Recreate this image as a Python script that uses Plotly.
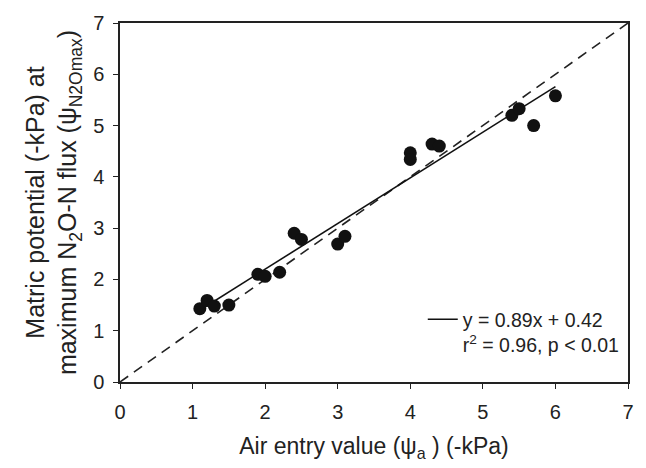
import plotly.graph_objects as go

# Air entry value (-kPa) and matric potential at maximum N2O-N flux (-kPa)
air_entry = [1.1, 1.2, 1.3, 1.5, 1.9, 2.0, 2.2, 2.4, 2.5, 3.0, 3.1,
             4.0, 4.0, 4.3, 4.4, 5.4, 5.5, 5.7, 6.0]
psi_n2o_max = [1.43, 1.59, 1.48, 1.50, 2.10, 2.06, 2.14, 2.90, 2.78, 2.69, 2.84,
               4.47, 4.34, 4.64, 4.60, 5.20, 5.33, 5.00, 5.58]

# Fitted regression and the 1:1 reference
slope, intercept = 0.89, 0.42
fit_x = [1.1, 6.0]
fit_y = [slope * v + intercept for v in fit_x]
one_to_one = [0, 7]

axis_ticks = [0, 1, 2, 3, 4, 5, 6, 7]

FONT = "Liberation Sans, Arial, sans-serif"
INK = "#222222"

fig = go.Figure()

fig.add_trace(go.Scatter(
    x=one_to_one, y=one_to_one, mode="lines",
    line=dict(color=INK, width=1.6, dash="10px,7px"),
    showlegend=False, hoverinfo="skip",
))

fig.add_trace(go.Scatter(
    x=fit_x, y=fit_y, mode="lines",
    line=dict(color="#111111", width=1.6),
    name="y = 0.89x + 0.42<br>r<sup>2</sup> = 0.96, p < 0.01",
    showlegend=True,
))

fig.add_trace(go.Scatter(
    x=air_entry, y=psi_n2o_max, mode="markers",
    marker=dict(color="#111111", size=13, line=dict(width=0)),
    showlegend=False,
))

axis_common = dict(
    range=[0, 7], tickvals=axis_ticks, ticks="outside", ticklen=5, tickwidth=1,
    tickcolor=INK, showline=True, linecolor=INK, linewidth=1.5,
    mirror=True, showgrid=False, zeroline=False,
    tickfont=dict(family=FONT, size=20, color=INK),
)

fig.update_layout(
    width=646, height=468,
    margin=dict(l=120, r=14, t=20, b=86),
    paper_bgcolor="white", plot_bgcolor="white",
    font=dict(family=FONT, color=INK),
    xaxis=dict(
        **axis_common,
        ticklabelstandoff=6,
        title=dict(text="Air entry value (ψ<sub>a</sub> ) (-kPa)",
                   font=dict(family=FONT, size=23, color=INK), standoff=16),
    ),
    yaxis=dict(
        **axis_common,
        ticklabelstandoff=5,
        title=dict(text="Matric potential (-kPa) at<br>maximum N<sub>2</sub>O-N flux (ψ<sub>N2Omax</sub>)",
                   font=dict(family=FONT, size=25, color=INK), standoff=9),
    ),
    legend=dict(
        x=0.596, y=0.228, xanchor="left", yanchor="top",
        bgcolor="rgba(0,0,0,0)", valign="top",
        font=dict(family=FONT, size=19.5, color=INK),
    ),
)

fig.write_html("out.html")
